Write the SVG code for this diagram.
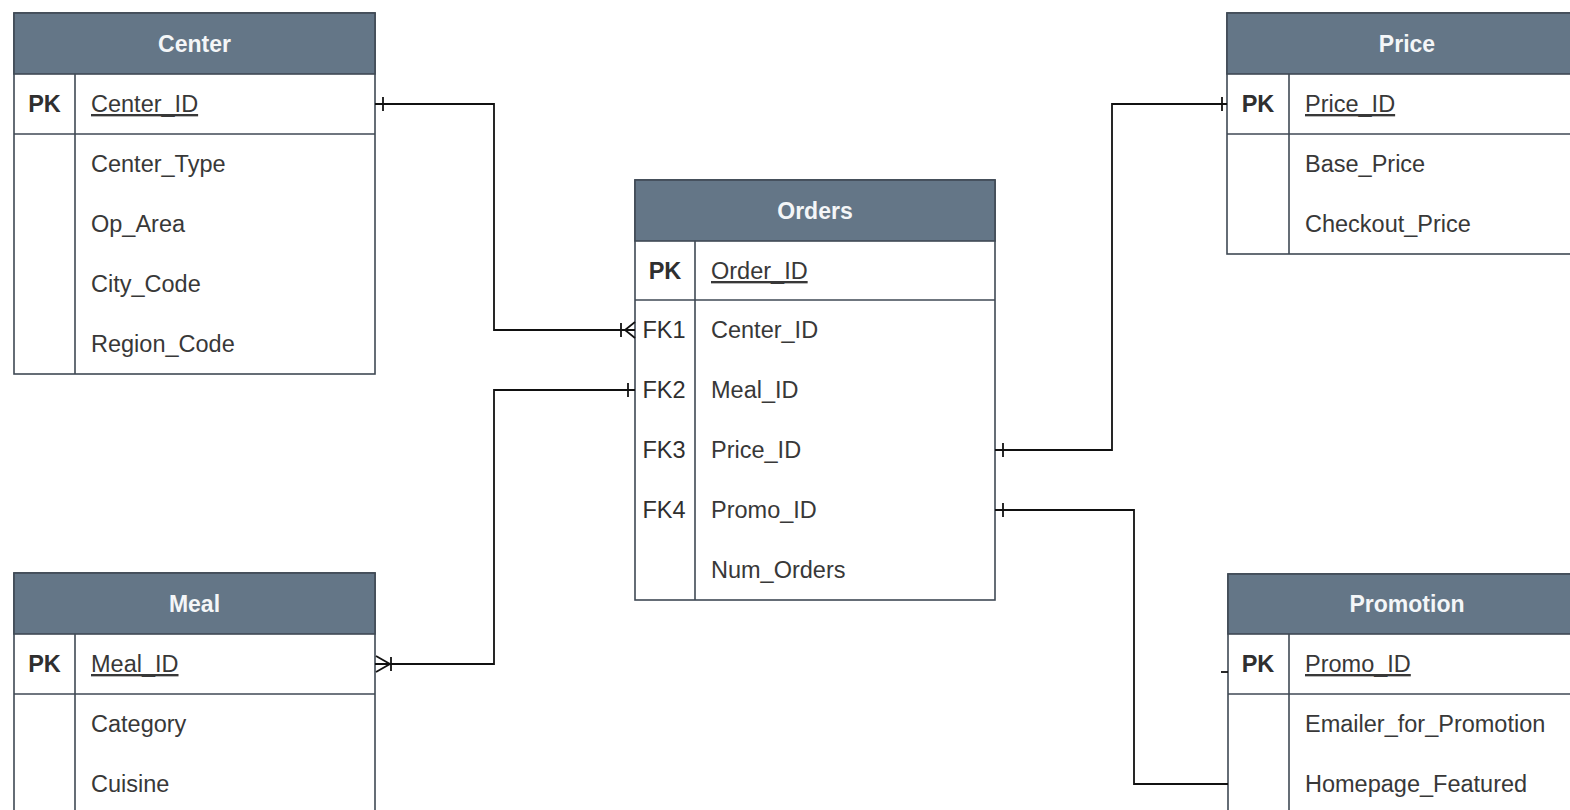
<svg xmlns="http://www.w3.org/2000/svg" width="1570" height="810" viewBox="0 0 1570 810">
<style>
.box{fill:#fff;stroke:#3f4954;stroke-width:1.6}
.hdr{fill:#647687;stroke:#3f4954;stroke-width:1.6}
.ln{stroke:#3f4954;stroke-width:1.6;fill:none}
.ht{font-family:"Liberation Sans",Arial,sans-serif;font-size:23px;font-weight:bold;fill:#f4f6f8;text-anchor:middle}
.k{font-family:"Liberation Sans",Arial,sans-serif;font-size:23.5px;fill:#2f2f2f;text-anchor:middle}
.kb{font-weight:bold}
.f{font-family:"Liberation Sans",Arial,sans-serif;font-size:23.5px;fill:#383838}
.u{text-decoration:underline}
.c{stroke:#111;stroke-width:1.8;fill:none}
</style>
<rect width="1570" height="810" fill="#fff"/>

<g id="center">
<rect class="box" x="14" y="13" width="361" height="361"/>
<rect class="hdr" x="14" y="13" width="361" height="61"/>
<line class="ln" x1="14" y1="134" x2="375" y2="134"/>
<line class="ln" x1="75" y1="74" x2="75" y2="374"/>
<text class="ht" x="194.5" y="52">Center</text>
<text class="k kb" x="44.5" y="112">PK</text>
<text class="f u" x="91" y="112">Center_ID</text>
<text class="f" x="91" y="172">Center_Type</text>
<text class="f" x="91" y="232">Op_Area</text>
<text class="f" x="91" y="292">City_Code</text>
<text class="f" x="91" y="352">Region_Code</text>
</g>

<g id="meal">
<rect class="box" x="14" y="573" width="361" height="260"/>
<rect class="hdr" x="14" y="573" width="361" height="61"/>
<line class="ln" x1="14" y1="694" x2="375" y2="694"/>
<line class="ln" x1="75" y1="634" x2="75" y2="833"/>
<text class="ht" x="194.5" y="612">Meal</text>
<text class="k kb" x="44.5" y="672">PK</text>
<text class="f u" x="91" y="672">Meal_ID</text>
<text class="f" x="91" y="732">Category</text>
<text class="f" x="91" y="792">Cuisine</text>
</g>

<g id="orders">
<rect class="box" x="635" y="180" width="360" height="420"/>
<rect class="hdr" x="635" y="180" width="360" height="61"/>
<line class="ln" x1="635" y1="300" x2="995" y2="300"/>
<line class="ln" x1="695" y1="241" x2="695" y2="600"/>
<text class="ht" x="815" y="219">Orders</text>
<text class="k kb" x="665" y="279">PK</text>
<text class="f u" x="711" y="279">Order_ID</text>
<text class="k" x="664" y="338">FK1</text>
<text class="f" x="711" y="338">Center_ID</text>
<text class="k" x="664" y="398">FK2</text>
<text class="f" x="711" y="398">Meal_ID</text>
<text class="k" x="664" y="458">FK3</text>
<text class="f" x="711" y="458">Price_ID</text>
<text class="k" x="664" y="518">FK4</text>
<text class="f" x="711" y="518">Promo_ID</text>
<text class="f" x="711" y="578">Num_Orders</text>
</g>

<g id="price">
<rect class="box" x="1227" y="13" width="380" height="241"/>
<rect class="hdr" x="1227" y="13" width="380" height="61"/>
<line class="ln" x1="1227" y1="134" x2="1607" y2="134"/>
<line class="ln" x1="1289" y1="74" x2="1289" y2="254"/>
<text class="ht" x="1407" y="52">Price</text>
<text class="k kb" x="1258" y="112">PK</text>
<text class="f u" x="1305" y="112">Price_ID</text>
<text class="f" x="1305" y="172">Base_Price</text>
<text class="f" x="1305" y="232">Checkout_Price</text>
</g>

<g id="promotion">
<rect class="box" x="1228" y="574" width="380" height="260"/>
<rect class="hdr" x="1228" y="574" width="380" height="60"/>
<line class="ln" x1="1228" y1="694" x2="1608" y2="694"/>
<line class="ln" x1="1289" y1="634" x2="1289" y2="834"/>
<text class="ht" x="1407" y="612">Promotion</text>
<text class="k kb" x="1258" y="672">PK</text>
<text class="f u" x="1305" y="672">Promo_ID</text>
<text class="f" x="1305" y="732">Emailer_for_Promotion</text>
<text class="f" x="1305" y="792">Homepage_Featured</text>
</g>

<g id="connectors">
<!-- Center -> Orders FK1 -->
<path class="c" d="M375,104 H494 V330 H635"/>
<line class="c" x1="383" y1="97" x2="383" y2="111"/>
<line class="c" x1="621" y1="323" x2="621" y2="337"/>
<path class="c" d="M635,322 L625,330 L635,338"/>
<!-- Meal -> Orders FK2 -->
<path class="c" d="M375,664 H494 V390 H635"/>
<path class="c" d="M376,656 L390,664 L376,672"/>
<line class="c" x1="391" y1="657" x2="391" y2="671"/>
<line class="c" x1="628" y1="383" x2="628" y2="397"/>
<!-- Orders FK3 -> Price -->
<path class="c" d="M995,450 H1112 V104 H1227"/>
<line class="c" x1="1003" y1="443" x2="1003" y2="457"/>
<line class="c" x1="1222" y1="97" x2="1222" y2="111"/>
<!-- Orders FK4 -> Promotion -->
<path class="c" d="M995,510 H1134 V784 H1228"/>
<line class="c" x1="1003" y1="503" x2="1003" y2="517"/>
<line class="c" x1="1221" y1="672" x2="1228" y2="672"/>
</g>
</svg>
